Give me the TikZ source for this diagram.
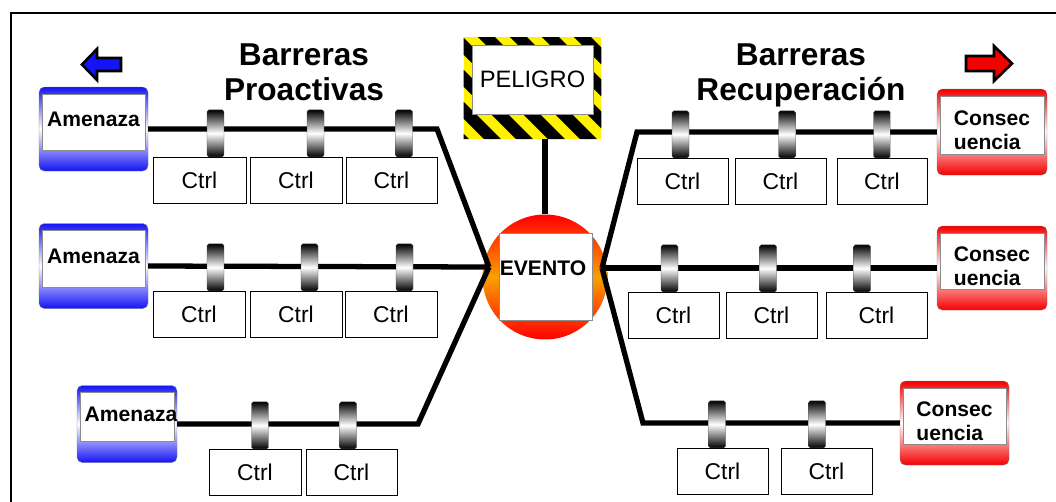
\documentclass[tikz,border=0pt]{standalone}
\usepackage{fontspec}
\setmainfont{Liberation Sans}
\definecolor{evorange}{RGB}{250,160,0}
\definecolor{threatblue}{RGB}{20,20,245}
\definecolor{conred}{RGB}{245,0,0}
\begin{document}
\begin{tikzpicture}[x=0.02cm,y=-0.02cm,
	wire/.style={line width=3pt},
	ring/.style={rectangle,rounded corners=1pt,draw=black!70,very thin,top color=black,bottom color=black,middle color=white,minimum width=0.34cm,minimum height=0.94cm,inner sep=0pt},
	ctrl/.style={rectangle,draw,fill=white,thin,minimum height=0.92cm,inner sep=0pt,font=\fontsize{13}{15}\selectfont},
	outerbox/.style={rectangle,rounded corners=3pt,draw=black!50,very thin,inner sep=0pt},
	innerbox/.style={rectangle,draw=black!45,fill=white,inner sep=0pt},
	boxtext/.style={font=\bfseries\fontsize{12}{14}\selectfont,align=center,inner sep=0pt},
	title/.style={font=\bfseries\fontsize{18}{20}\selectfont,inner sep=0pt,anchor=base}]
	\useasboundingbox (0,0) rectangle (1056,501);
	%frame
	\draw[line width=1.1pt] (11,520) -- (11,13) -- (1080,13);
	%titles
	\node[title] (tp1) at (304,65) {Barreras};
	\node[title] (tp2) at (304,100) {Proactivas};
	\node[title] (tr1) at (801,65) {Barreras};
	\node[title] (tr2) at (801,100) {Recuperación};
	%hazard
	\node[rectangle,fill=yellow,minimum width=2.74cm,minimum height=2.04cm,inner sep=0pt] (pel) at (532.5,88) {};
	\begin{scope}
		\clip (pel.north west) rectangle (pel.south east);
		\foreach \s in {0,32,...,256}
			\fill (350+\s,37) -- ++(17,0) -- ++(102,102) -- ++(-17,0) -- cycle;
	\end{scope}
	\node[innerbox,minimum width=2.42cm,minimum height=1.38cm,font=\fontsize{13.5}{16}\selectfont] (peltxt) at (532.5,79.5) {PELIGRO};
	%event
	\node[circle,top color=red,bottom color=red,middle color=evorange,minimum size=2.5cm,inner sep=0pt] (ev) at (545,277) {};
	\node[innerbox,minimum width=1.86cm,minimum height=1.74cm] (evbox) at (545.5,276.5) {};
	\node[boxtext] (evtxt) at (543,268) {EVENTO};
	\draw[wire] (pel.south -| ev.north) -- (ev.north);
	%threats
	\foreach \n/\cx/\cy/\w/\h in {a1/93.5/129/109/84,a2/93.5/266/109/85,a3/127/424/100/77}
	{
		\node[outerbox,top color=threatblue,bottom color=threatblue,middle color=white,minimum width=\w*0.02cm,minimum height=\h*0.02cm] (\n) at (\cx,\cy) {};
		\node[innerbox,anchor=north,minimum width=\w*0.02cm-0.12cm,minimum height=\h*0.02cm-0.56cm] (\n-in) at ([yshift=-0.14cm]\n.north) {};
	}
	\node[boxtext] (a1-txt) at ([yshift=0.06cm]a1-in) {Amenaza};
	\node[boxtext] (a2-txt) at ([yshift=0.06cm]a2-in) {Amenaza};
	\node[boxtext] (a3-txt) at ([xshift=0.08cm,yshift=0.06cm]a3-in) {Amenaza};
	%consequences
	\foreach \n/\cx/\cy/\w/\h in {c1/992/132/110/86,c2/992/268/110/84,c3/954.5/423/109/84}
	{
		\node[outerbox,top color=conred,bottom color=conred,middle color=white,minimum width=\w*0.02cm,minimum height=\h*0.02cm] (\n) at (\cx,\cy) {};
		\node[innerbox,anchor=north,minimum width=\w*0.02cm-0.12cm,minimum height=\h*0.02cm-0.56cm] (\n-in) at ([yshift=-0.14cm]\n.north) {};
		\node[boxtext,align=left] (\n-txt) at ([yshift=-0.1cm]\n-in) {Consec\\uencia};
	}
	% lines to the event
	\coordinate (evl) at (489,267);
	\coordinate (evr) at (602,268);
	\draw[wire] (a1.east) -- (437,129) -- (evl);
	\draw[wire] (a2.east) -- (evl);
	\draw[wire] (a3.east) -- (418,424) -- (evl);
	\draw[wire] (c1.west) -- (637,132) -- (evr);
	\draw[wire] (c2.west) -- (evr);
	\draw[wire] (c3.west) -- (643,423) -- (evr);
	%barriers
	\foreach \bx/\cx/\cw/\yb [count=\i] in {215.5/199.5/93/157,315.5/296/92/157,404/391.5/91/157,
		215.5/199/92/291,309.5/296/92/291,404.5/391/92/291,
		260/255/92/449,348/351.5/91/449,
		680.5/682.5/91/158,787/780.5/91/158,882/882/90/158,
		669.5/673.5/91/292,768/771.5/91/292,862/876.5/101/292,
		717/722.5/91/448,817/826.5/91/448}
	{
		\node[ring,anchor=south] (b\i) at (\bx,\yb) {};
		\node[ctrl,anchor=north,minimum width=\cw*0.02cm] (k\i) at (\cx,\yb) {Ctrl};
	}
	%direction arrows
	\draw[line width=1.5pt,fill=threatblue] (82,64.5) -- (97,49) -- (97,58) -- (121,58) -- (121,71) -- (97,71) -- (97,80) -- cycle;
	\draw[line width=1.5pt,fill=conred] (1012,63.5) -- (994,46) -- (994,56) -- (966,56) -- (966,71) -- (994,71) -- (994,81) -- cycle;
\end{tikzpicture}
\end{document}
